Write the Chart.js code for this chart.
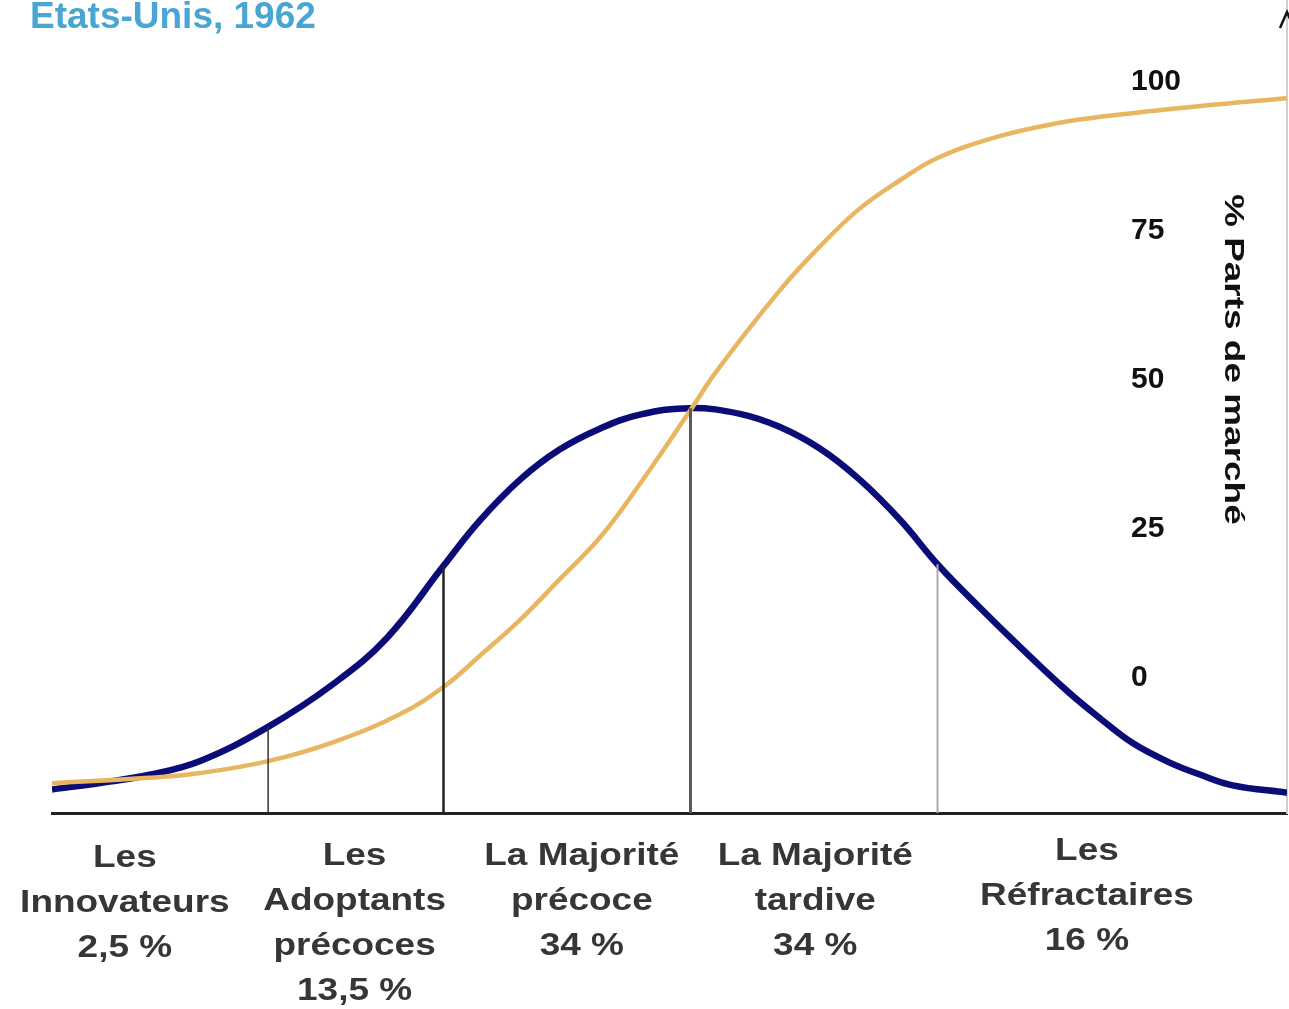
<!DOCTYPE html>
<html lang="fr">
<head>
    <meta charset="UTF-8">
    <title>Etats-Unis, 1962 - Diffusion de l'innovation</title>
    <script src="https://cdn.jsdelivr.net/npm/chart.js"></script>
    <style>
        html, body {
            margin: 0;
            padding: 0;
            background: #fff;
            overflow: hidden;
        }
        .wrap {
            position: relative;
            width: 1289px;
            height: 1009px;
            overflow: hidden;
        }
        #diffusion {
            position: absolute;
            left: 0;
            top: 0;
        }
        .titre {
            position: absolute;
            left: 30px;
            top: -3px;
            font: bold 37px "Liberation Sans", Arial, sans-serif;
            line-height: 37px;
            color: #49a6d3;
            white-space: nowrap;
        }
    </style>
</head>
<body>
<div class="wrap">
    <canvas id="diffusion" width="1289" height="1009"></canvas>
    <div class="titre">Etats-Unis, 1962</div>
</div>
<script>
    // courbe en cloche (adoptants)
    const positions = [0, 3.9, 7.9, 12.0, 17.5, 22.8, 27.1, 31.7, 34.6, 37.9, 41.1, 44.4, 47.6, 51.7, 55.7, 58.9, 62.2, 65.4, 68.7, 71.7, 75.1, 78.4, 82.2, 84.9, 87.5, 90.5, 93.0, 95.6, 100];
    const adoptants = [2.9, 3.7, 4.7, 6.4, 10.6, 15.9, 21.5, 30.4, 35.9, 41.0, 44.7, 47.3, 49.0, 49.8, 49.1, 47.5, 44.8, 41.0, 36.0, 30.6, 25.3, 20.4, 15.0, 11.6, 8.6, 6.2, 4.7, 3.4, 2.5];

    // courbe en S (% parts de marché)
    const positionsParts = [0, 7.9, 12.0, 17.5, 22.8, 28.2, 31.8, 34.6, 37.9, 41.1, 44.4, 47.6, 51.7, 53.8, 58.9, 62.2, 65.4, 68.7, 71.7, 76.8, 81.6, 84.9, 93.0, 100];
    const partsDeMarche = [-17.8, -16.9, -16.1, -14.1, -10.9, -6.2, -1.5, 3.5, 9.6, 16.4, 23.5, 32.4, 44.8, 51.3, 64.8, 72.3, 78.6, 83.4, 87.1, 90.8, 93.0, 94.0, 95.8, 97.1];

    // séparations entre les catégories
    const separations = [17.5, 31.7, 51.7, 71.7];
    const hauteursSeparations = [10.6, 30.4, 49.8, 30.6];

    const categories = [
        ["Les", "Innovateurs", "2,5 %"],
        ["Les", "Adoptants", "précoces", "13,5 %"],
        ["La Majorité", "précoce", "34 %"],
        ["La Majorité", "tardive", "34 %"],
        ["Les", "Réfractaires", "16 %"]
    ];
    const centresCategories = [5.9, 24.5, 42.9, 61.8, 83.8];

    const graduations = [0, 25, 50, 75, 100];
    const titreAxe = "% Parts de marché";

    const police = '"Liberation Sans", Arial, sans-serif';
    const stylesSeparations = [
        { color: "#333333", width: 1.5 },
        { color: "#222222", width: 2.5 },
        { color: "#5a5a5a", width: 3 },
        { color: "#ababab", width: 2 }
    ];
    const decalagesCategories = [1, -1, -1, -1, -6];

    const toPoints = (xs, ys) => xs.map((x, i) => ({ x, y: ys[i] }));

    const separationDatasets = separations.map((x, i) => ({
        label: "séparation " + (i + 1),
        data: [{ x, y: 0 }, { x, y: hauteursSeparations[i] }],
        yAxisID: "y2",
        borderColor: stylesSeparations[i].color,
        borderWidth: stylesSeparations[i].width,
        pointRadius: 0,
        tension: 0
    }));

    // texte étiré horizontalement (police d'origine plus large)
    const drawStretched = (ctx, text, x, y, sx) => {
        ctx.save();
        ctx.translate(x, y);
        ctx.scale(sx, 1);
        ctx.fillText(text, 0, 0);
        ctx.restore();
    };

    const annotations = {
        id: "annotations",
        afterDraw(chart) {
            const { ctx, chartArea } = chart;
            const xs = chart.scales.x;
            const ys = chart.scales.y;

            // graduations de l'axe des parts de marché
            ctx.save();
            ctx.fillStyle = "#111";
            ctx.font = "bold 30px " + police;
            ctx.textAlign = "left";
            ctx.textBaseline = "middle";
            graduations.forEach(v => {
                ctx.fillText(String(v), chartArea.right - 156, ys.getPixelForValue(v) + 1);
            });

            // titre de l'axe, vertical
            ctx.save();
            ctx.translate(chartArea.right - 62, 194);
            ctx.rotate(Math.PI / 2);
            ctx.scale(1.32, 1);
            ctx.font = "bold 28px " + police;
            ctx.textAlign = "left";
            ctx.textBaseline = "alphabetic";
            ctx.fillText(titreAxe, 0, 0);
            ctx.restore();

            // flèche en haut de l'axe
            ctx.strokeStyle = "#111";
            ctx.lineWidth = 2.5;
            ctx.beginPath();
            ctx.moveTo(chartArea.right - 7, 28);
            ctx.lineTo(chartArea.right, 12);
            ctx.lineTo(chartArea.right + 7, 28);
            ctx.stroke();

            // catégories sous l'axe
            ctx.fillStyle = "#363636";
            ctx.font = "bold 32px " + police;
            ctx.textAlign = "center";
            ctx.textBaseline = "middle";
            categories.forEach((lines, i) => {
                const cx = xs.getPixelForValue(centresCategories[i]);
                lines.forEach((line, j) => {
                    drawStretched(ctx, line, cx, chartArea.bottom + 44 + decalagesCategories[i] + j * 45, 1.155);
                });
            });
            ctx.restore();
        }
    };

    new Chart(document.getElementById("diffusion"), {
        type: "line",
        data: {
            datasets: [
                ...separationDatasets,
                {
                    label: "Parts de marché",
                    data: toPoints(positionsParts, partsDeMarche),
                    yAxisID: "y",
                    borderColor: "#e8b660",
                    borderWidth: 4.5,
                    pointRadius: 0,
                    tension: 0.4
                },
                {
                    label: "Adoptants",
                    data: toPoints(positions, adoptants),
                    yAxisID: "y2",
                    borderColor: "#0c0c78",
                    borderWidth: 6.5,
                    pointRadius: 0,
                    tension: 0.4
                }
            ]
        },
        options: {
            responsive: false,
            animation: false,
            layout: { padding: { left: 52, right: 2, top: 0, bottom: 196 } },
            plugins: {
                legend: { display: false },
                tooltip: { enabled: false }
            },
            scales: {
                x: {
                    type: "linear",
                    min: 0,
                    max: 100,
                    grid: { display: false, drawTicks: false },
                    ticks: { display: false },
                    border: { display: true, color: "#222", width: 3 }
                },
                y: {
                    position: "right",
                    min: -22.8,
                    max: 113.6,
                    grid: { display: false, drawTicks: false },
                    ticks: { display: false },
                    border: { display: true, color: "#cfcfcf", width: 2 }
                },
                y2: {
                    display: false,
                    min: 0,
                    max: 100
                }
            }
        },
        plugins: [annotations]
    });
</script>
</body>
</html>
